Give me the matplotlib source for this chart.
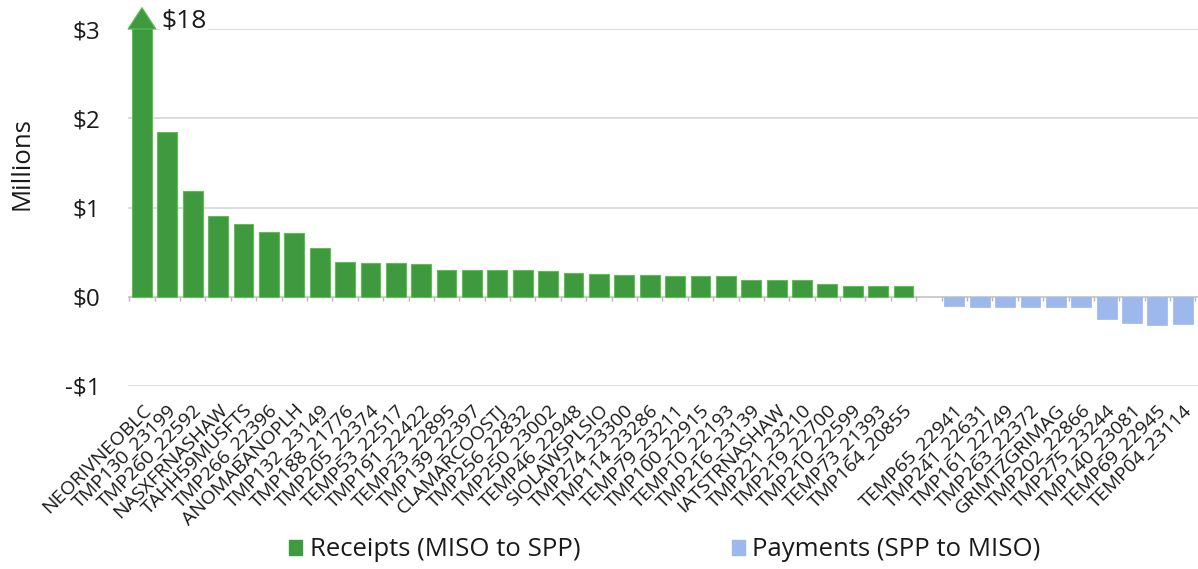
import matplotlib
matplotlib.use("Agg")
import matplotlib.pyplot as plt
from matplotlib.patches import Polygon, Patch
import numpy as np

plt.rcParams['font.family'] = ['Open Sans', 'DejaVu Sans']

# Flowgate settlement amounts, $ millions
receipt_names = [
    "NEORIVNEOBLC", "TMP130_23199", "TMP260_22592", "NASXFRNASHAW", "TAHH59MUSFTS",
    "TMP266_22396", "ANOMABANOPLH", "TMP132_23149", "TMP188_21776", "TMP205_22374",
    "TEMP53_22517", "TMP191_22422", "TEMP23_22895", "TMP139_22397", "CLAMARCOOSTJ",
    "TMP256_22832", "TMP250_23002", "TEMP46_22948", "SIOLAWSPLSIO", "TMP274_23300",
    "TMP114_23286", "TEMP79_23211", "TMP100_22915", "TEMP10_22193", "TMP216_23139",
    "IATSTRNASHAW", "TMP221_23210", "TMP219_22700", "TMP210_22599", "TEMP73_21393",
    "TMP164_20855",
]
receipt_values = [
    18, 1.85, 1.18, 0.91, 0.82, 0.73, 0.71, 0.55, 0.39, 0.38,
    0.38, 0.37, 0.30, 0.30, 0.30, 0.30, 0.29, 0.27, 0.255, 0.24,
    0.24, 0.23, 0.23, 0.23, 0.19, 0.19, 0.19, 0.14, 0.125, 0.125,
    0.12,
]
payment_names = [
    "TEMP65_22941", "TMP241_22631", "TMP161_22749", "TMP263_22372", "GRIMTZGRIMAG",
    "TMP202_22866", "TMP275_23244", "TMP140_23081", "TEMP69_22945", "TEMP04_23114",
]
payment_values = [-0.10, -0.11, -0.11, -0.11, -0.11, -0.12, -0.25, -0.29, -0.32, -0.31]

y_ticks = [-1, 0, 1, 2, 3]
y_tick_labels = ["-$1", "$0", "$1", "$2", "$3"]

GREEN = "#3f9a3f"
GREEN_EDGE = "#5cbf4f"
BLUE = "#9db8ec"
TEXT = "#1a1a1a"
FS = 18.5

fig = plt.figure(figsize=(11.98, 5.69), dpi=100)
ax = fig.add_axes([128 / 1198, 183 / 569, 1070 / 1198, 357 / 569])

n_rec = len(receipt_values)
x_rec = np.arange(n_rec)
x_pay = np.arange(n_rec + 1, n_rec + 1 + len(payment_values))
labels = receipt_names + [""] + payment_names
x_all = np.arange(len(labels))

ax.set_xlim(-0.55, len(labels) - 0.4)
ax.set_ylim(-1, 3)

# gridlines and zero line
for yv in [-1, 1, 2, 3]:
    ax.axhline(yv, color="#d6d6d6", lw=1.2, zorder=0)
ax.axhline(0, color="#c4c4c4", lw=1.2, zorder=1)

ax.bar(x_rec, receipt_values, width=0.78, color=GREEN, edgecolor=GREEN_EDGE,
       linewidth=0.8, zorder=2)
ax.bar(x_pay, payment_values, width=0.78, color=BLUE, edgecolor=BLUE,
       linewidth=0.5, zorder=2)

# truncated first bar: arrow head above the axis top and its value label
top = ax.get_ylim()[1]
head = Polygon([[x_rec[0] - 0.55, top], [x_rec[0] + 0.55, top], [x_rec[0], top + 0.24]],
               closed=True, facecolor=GREEN, edgecolor=GREEN_EDGE, lw=0.8,
               clip_on=False, zorder=3)
ax.add_patch(head)
ax.text(x_rec[0] + 0.78, top + 0.08, f"${receipt_values[0]:g}", fontsize=19,
        color=TEXT, va="center", ha="left", clip_on=False,
        bbox=dict(facecolor="white", edgecolor="none", pad=1))

for s in ax.spines.values():
    s.set_visible(False)

ax.set_yticks(y_ticks)
ax.set_yticklabels(y_tick_labels, fontsize=17.5, color=TEXT)
ax.tick_params(axis="y", length=0, pad=20)

ax.set_xticks(x_all)
ax.set_xticklabels(labels, rotation=45, ha="right", va="top",
                   rotation_mode="anchor", fontsize=14, color=TEXT)
ax.tick_params(axis="x", which="major", length=0, pad=11)

# small separators along the zero line
bounds = np.concatenate([np.arange(-0.5, n_rec, 1.0), np.arange(n_rec + 0.5, len(labels), 1.0)])
ax.vlines(bounds, -0.05, 0.0, color="#b5b5b5", lw=1, zorder=1)

fig.text(22 / 1198, 1 - 164 / 569, "Millions", rotation=90, fontsize=FS,
         color=TEXT, ha="center", va="center")

handles = [Patch(facecolor=GREEN, edgecolor=GREEN, label="Receipts (MISO to SPP)"),
           Patch(facecolor=BLUE, edgecolor=BLUE, label="Payments (SPP to MISO)")]
fig.legend(handles=handles, loc="center", bbox_to_anchor=(665 / 1198, 1 - 550 / 569),
           ncol=2, frameon=False, fontsize=FS, handlelength=0.5, handleheight=0.5,
           handletextpad=0.3, columnspacing=5.9, labelcolor=TEXT)

fig.savefig("out.png", dpi=100, facecolor="white")
